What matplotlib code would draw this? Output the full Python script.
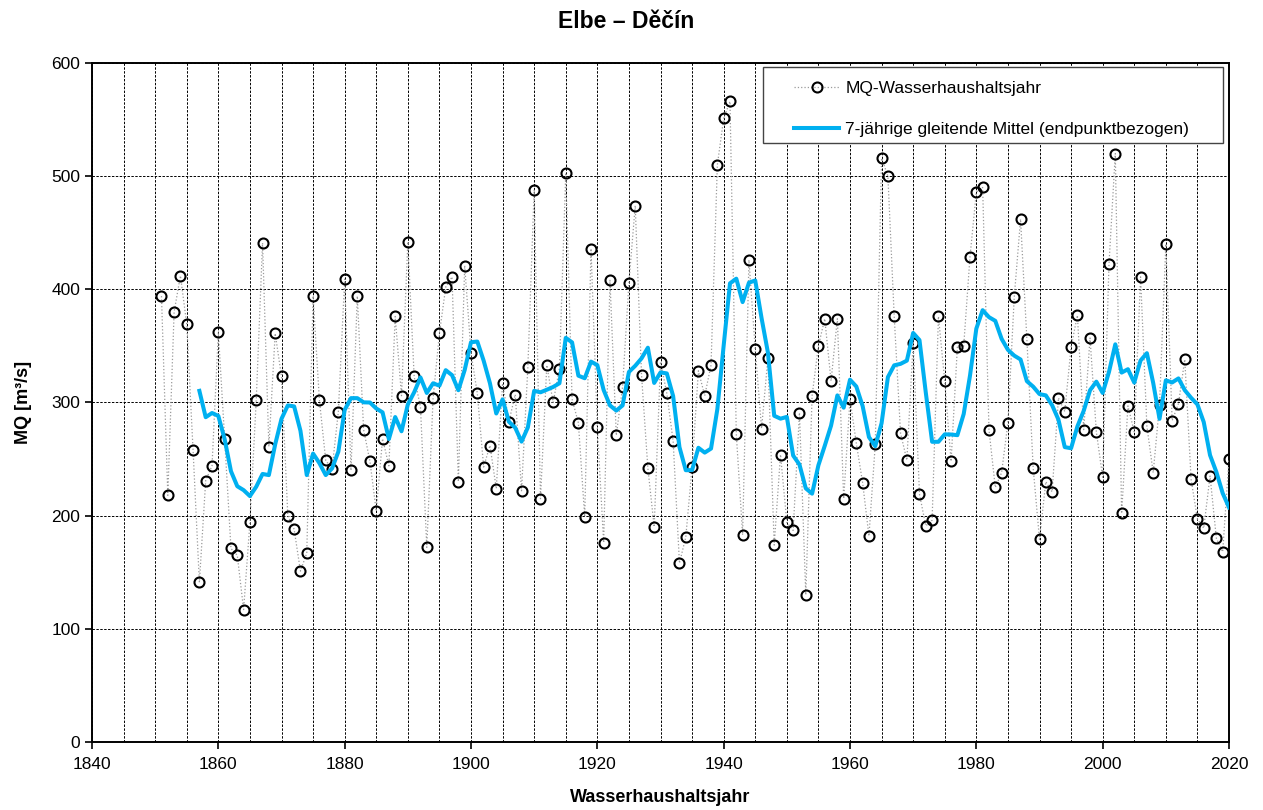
import numpy as np
import pandas as pd
import matplotlib
matplotlib.use("Agg")
import matplotlib.pyplot as plt
from matplotlib.patches import Rectangle
from matplotlib.ticker import MultipleLocator

# =============================================================================
# Donnees : MQ annuel (Wasserhaushaltsjahr) Elbe - Decin
# =============================================================================

annees = np.arange(1851, 2021)

mq = [
    # 1851 - 1860
    394, 218, 380, 412, 369, 258, 141, 231, 244, 362,
    # 1861 - 1870
    268, 171, 165, 117, 194, 302, 441, 261, 361, 323,
    # 1871 - 1880
    200, 188, 151, 167, 394, 302, 249, 241, 292, 409,
    # 1881 - 1890
    240, 394, 276, 248, 204, 268, 244, 376, 306, 442,
    # 1891 - 1900
    323, 296, 172, 304, 361, 402, 411, 230, 421, 344,
    # 1901 - 1910
    308, 243, 262, 224, 317, 283, 307, 222, 331, 488,
    # 1911 - 1920
    215, 333, 300, 330, 503, 303, 282, 199, 436, 278,
    # 1921 - 1930
    176, 408, 271, 314, 406, 474, 324, 242, 190, 336,
    # 1931 - 1940
    308, 266, 158, 181, 243, 328, 306, 333, 510, 551,
    # 1941 - 1950
    566, 272, 183, 426, 347, 277, 339, 174, 254, 194,
    # 1951 - 1960
    187, 291, 130, 306, 350, 374, 319, 374, 215, 303,
    # 1961 - 1970
    264, 229, 182, 263, 516, 500, 376, 273, 249, 353,
    # 1971 - 1980
    219, 191, 196, 376, 319, 248, 349, 350, 429, 486,
    # 1981 - 1990
    490, 276, 225, 238, 282, 393, 462, 356, 242, 179,
    # 1991 - 2000
    230, 221, 304, 292, 349, 377, 276, 357, 274, 234,
    # 2001 - 2010
    422, 520, 202, 297, 274, 411, 279, 238, 298, 440,
    # 2011 - 2020
    284, 299, 338, 232, 197, 189, 235, 180, 168, 250,
]

titre = "Elbe \u2013 D\u011b\u010d\u00edn"
label_mq = "MQ-Wasserhaushaltsjahr"
label_moyenne = "7-j\u00e4hrige gleitende Mittel (endpunktbezogen)"

df = pd.DataFrame({"annee": annees, "mq": mq})
# moyenne glissante sur 7 ans, rattachee a la derniere annee de la fenetre
df["mq7"] = df["mq"].rolling(7).mean()

# =============================================================================
# Graphique
# =============================================================================

plt.rcParams["font.family"] = ["Liberation Sans", "DejaVu Sans"]

W, H = 1263, 810
fig = plt.figure(figsize=(W / 100, H / 100), dpi=100)
ax = fig.add_axes([92 / W, 68 / H, 1137 / W, 679 / H])

ax.plot(df["annee"], df["mq"], linestyle=":", color="#9a9a9a", linewidth=0.9,
        marker="o", markersize=7.2, markerfacecolor="none",
        markeredgecolor="black", markeredgewidth=1.5, label=label_mq, zorder=3)
ax.plot(df["annee"], df["mq7"], color="#00b0f0", linewidth=2.9,
        label=label_moyenne, zorder=4)

ax.set_xlim(1840, 2020)
ax.set_ylim(0, 600)
ax.xaxis.set_major_locator(MultipleLocator(20))
ax.xaxis.set_minor_locator(MultipleLocator(5))
ax.yaxis.set_major_locator(MultipleLocator(100))

ax.grid(which="both", axis="x", color="black", linestyle=(0, (2.5, 1.5)), linewidth=0.7)
ax.grid(which="major", axis="y", color="black", linestyle=(0, (2.5, 1.5)), linewidth=0.7)
ax.set_axisbelow(True)

ax.tick_params(axis="both", which="major", direction="out", length=5, width=1.2,
               labelsize=12.5, colors="black")
ax.tick_params(axis="x", which="minor", length=0)
ax.tick_params(axis="x", pad=6)
for s in ax.spines.values():
    s.set_linewidth(1.4)
    s.set_color("black")

ax.set_xlabel("Wasserhaushaltsjahr", fontsize=13, fontweight="bold", labelpad=12)
ax.set_ylabel("MQ [m\u00b3/s]", fontsize=13, fontweight="bold", labelpad=14)
fig.suptitle(titre, x=626 / W, y=1 - 22 / H, va="center",
             fontsize=16.5, fontweight="bold")

# cadre de la legende (dessine a part pour garder les marges de l'original)
def px_x(x):
    return (x - 92) / 1137

def px_y(y):
    return (742 - y) / 679

cadre = Rectangle((px_x(763), px_y(143)), px_x(1223) - px_x(763), px_y(67) - px_y(143),
                  transform=ax.transAxes, facecolor="white", edgecolor="#444444",
                  linewidth=1.0, zorder=6)
ax.add_patch(cadre)

leg = ax.legend(loc="upper left", bbox_to_anchor=(px_x(794), px_y(81)), fontsize=12.5,
                frameon=False, handlelength=2.6, borderpad=0, labelspacing=1.5,
                handletextpad=0.35, borderaxespad=0)
leg.set_zorder(7)

fig.savefig("out.png", dpi=100)
plt.close(fig)
